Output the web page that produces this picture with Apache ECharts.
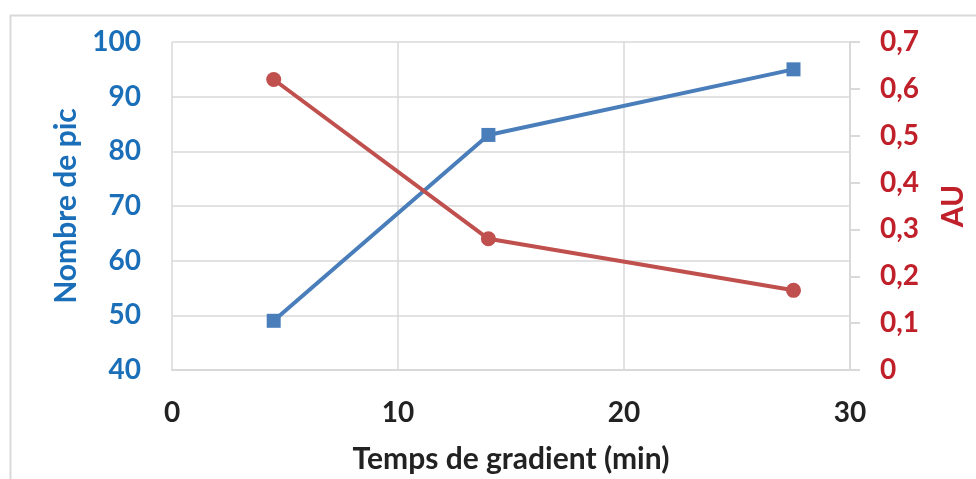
<!DOCTYPE html>
<html>
<head>
<meta charset="utf-8">
<script src="https://cdn.jsdelivr.net/npm/echarts@6/dist/echarts.min.js"></script>
<style>
  html, body { margin: 0; padding: 0; background: #fff; }
  #main { width: 976px; height: 479px; }
</style>
</head>
<body>
<div id="main"></div>
<script>
// données
const tempsGradient = [4.5, 14, 27.5];
const nombrePic = [49, 83, 95];
const au = [0.62, 0.28, 0.17];

const bleu = '#4a7ebb';
const rouge = '#c0504d';
const bleuTexte = '#1a6fb8';
const rougeTexte = '#c0202a';
const gris = '#d9d9d9';
const police = 'Lato';

let chart = echarts.init(document.getElementById('main'));

chart.setOption({
    animation: false,
    textStyle: { fontFamily: police },
    graphic: [{
        type: 'rect',
        shape: { x: 10.5, y: 15.5, width: 1000, height: 500 },
        style: { fill: 'none', stroke: gris, lineWidth: 2 },
        silent: true
    }],
    grid: { left: 172, right: 124, top: 42, bottom: 106 },
    xAxis: {
        type: 'value',
        min: 0, max: 30, interval: 10,
        name: 'Temps de gradient (min)',
        nameLocation: 'middle',
        nameGap: 74,
        nameTextStyle: { fontSize: 30, fontWeight: 'bold', color: '#222', fontFamily: police },
        axisLine: { show: true, lineStyle: { color: gris, width: 2 } },
        axisTick: { show: false },
        axisLabel: { fontSize: 28, fontWeight: 'bold', color: '#222', margin: 29, fontFamily: police },
        splitLine: { show: true, lineStyle: { color: gris, width: 1.5 } }
    },
    yAxis: [{
        type: 'value',
        min: 40, max: 100, interval: 10,
        name: 'Nombre de pic',
        nameLocation: 'middle',
        nameGap: 90,
        nameTextStyle: { fontSize: 30, fontWeight: 'bold', color: bleuTexte, fontFamily: police },
        axisLine: { show: false },
        axisTick: { show: false },
        axisLabel: { fontSize: 28, fontWeight: 'bold', color: bleuTexte, margin: 31, fontFamily: police },
        splitLine: { show: true, lineStyle: { color: gris, width: 1.5 } }
    }, {
        type: 'value',
        min: 0, max: 0.7, interval: 0.1,
        name: 'AU',
        nameLocation: 'middle',
        nameGap: 88,
        nameRotate: 90,
        nameTextStyle: { fontSize: 30, fontWeight: 'bold', color: rougeTexte, fontFamily: police },
        axisLine: { show: true, lineStyle: { color: gris, width: 2 } },
        axisTick: { show: true, length: 10, lineStyle: { color: gris, width: 2 } },
        axisLabel: {
            fontSize: 28, fontWeight: 'bold', color: rougeTexte, margin: 30, fontFamily: police,
            formatter: v => v === 0 ? '0' : v.toFixed(1).replace('.', ',')
        },
        splitLine: { show: false }
    }],
    series: [{
        name: 'Nombre de pic',
        type: 'line',
        yAxisIndex: 0,
        data: tempsGradient.map((t, i) => [t, nombrePic[i]]),
        symbol: 'rect',
        symbolSize: 14,
        lineStyle: { color: bleu, width: 4 },
        itemStyle: { color: bleu }
    }, {
        name: 'AU',
        type: 'line',
        yAxisIndex: 1,
        data: tempsGradient.map((t, i) => [t, au[i]]),
        symbol: 'circle',
        symbolSize: 15,
        lineStyle: { color: rouge, width: 4 },
        itemStyle: { color: rouge }
    }]
});
</script>
</body>
</html>
